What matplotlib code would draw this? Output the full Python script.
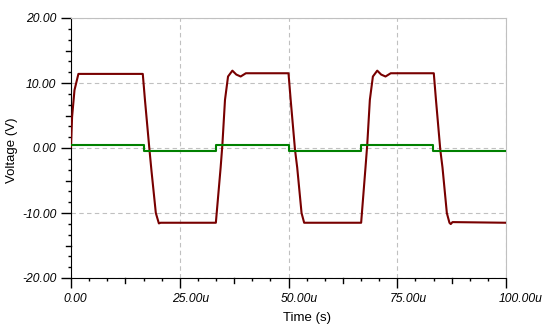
import matplotlib
matplotlib.use("Agg")
import matplotlib.pyplot as plt
from matplotlib.lines import Line2D
from matplotlib.transforms import offset_copy
import numpy as np

# output voltage (red), time in microseconds
t_out = [0.0, 0.25, 0.8, 1.7, 16.5, 17.0, 18.0, 18.5, 19.5, 20.2, 20.6, 33.3,
         34.4, 34.8, 35.4, 36.1, 37.1, 38.0, 39.0, 40.2, 50.0,
         50.5, 51.5, 52.0, 53.0, 53.6, 66.7,
         67.7, 68.1, 68.7, 69.4, 70.4, 71.3, 72.3, 73.5, 83.4,
         83.9, 84.9, 85.4, 86.4, 87.0, 87.3, 87.7, 100.0]
v_out = [0.2, 4.8, 8.9, 11.4, 11.4, 7.4, 0.0, -3.5, -10.0, -11.6, -11.5, -11.5,
         -3.0, 0.5, 7.4, 11.0, 11.9, 11.3, 11.0, 11.5, 11.5,
         7.4, -0.3, -3.0, -10.0, -11.5, -11.5,
         -3.0, 0.5, 7.4, 11.0, 11.9, 11.3, 11.0, 11.5, 11.5,
         7.4, -0.3, -3.0, -10.0, -11.5, -11.7, -11.4, -11.5]

# input square wave (green)
t_in = [0.0, 16.67, 33.33, 50.0, 66.67, 83.33, 100.0]
v_in = [0.45, -0.45, 0.45, -0.45, 0.45, -0.45, -0.45]

x_ticks = [0, 25, 50, 75, 100]
x_labels = ["0.00", "25.00u", "50.00u", "75.00u", "100.00u"]
y_ticks = [-20, -10, 0, 10, 20]
y_labels = ["-20.00", "-10.00", "0.00", "10.00", "20.00"]

fig = plt.figure(figsize=(5.46, 3.36), dpi=100)
ax = fig.add_axes([71/546, 58/336, 435/546, 260/336])

ax.plot(t_out, v_out, color="#780000", lw=1.5, zorder=3)
ax.step(t_in, v_in, where="post", color="#008000", lw=1.5, zorder=3)

ax.set_xlim(0, 100)
ax.set_ylim(-20, 20)

ax.set_xticks(x_ticks)
ax.set_xticklabels([])
ax.set_yticks(y_ticks)
ax.set_yticklabels(y_labels)

# minor ticks: 6 per major, the middle one a bit longer
xm = np.arange(0, 100.01, 25/6)
ax.set_xticks([v for v in xm if abs(v / 12.5 - round(v / 12.5)) > 0.01], minor=True)
ym = np.arange(-20, 20.01, 10/6)
ax.set_yticks([v for v in ym if abs(v / 5 - round(v / 5)) > 0.01], minor=True)

for lab in ax.get_yticklabels():
    lab.set_fontfamily("Liberation Sans")
    lab.set_fontstyle("italic")
    lab.set_fontsize(8.7)

# x tick labels start a little left of their tick
xt = offset_copy(ax.get_xaxis_transform(), fig=fig, x=-7.5, y=-14.5, units="dots")
for v, s in zip(x_ticks, x_labels):
    ax.text(v, 0, s, transform=xt, ha="left", va="top", family="Liberation Sans",
            style="italic", size=8.7, clip_on=False)

ax.tick_params(axis="both", which="major", direction="out", length=7, width=1, color="black")
ax.tick_params(axis="both", which="minor", direction="out", length=2.5, width=1, color="black")
ax.tick_params(axis="y", which="major", pad=3.5)

# medium ticks at the half-way points
for v in [12.5, 37.5, 62.5, 87.5]:
    ax.add_line(Line2D([v, v], [0, -0.02], transform=ax.get_xaxis_transform(), color="black",
                       lw=1, clip_on=False))
for v in [-15, -5, 5, 15]:
    ax.add_line(Line2D([0, -0.011], [v, v], transform=ax.get_yaxis_transform(), color="black",
                       lw=1, clip_on=False))

ax.grid(True, which="major", color="#c0c0c0", linestyle=(0, (4, 3)), lw=0.8)

ax.spines["top"].set_color("#c0c0c0")
ax.spines["right"].set_color("#c0c0c0")
ax.spines["left"].set_color("black")
ax.spines["bottom"].set_color("black")

fig.text(283 / 546, 1 - 312 / 336, "Time (s)", family="Liberation Sans", size=9.5,
         ha="left", va="top")
ax.set_ylabel("Voltage (V)", family="Liberation Sans", size=9.5)
ax.yaxis.set_label_coords((18 - 71) / 435, (278 - 150) / 260)

fig.savefig("out.png", dpi=100)
